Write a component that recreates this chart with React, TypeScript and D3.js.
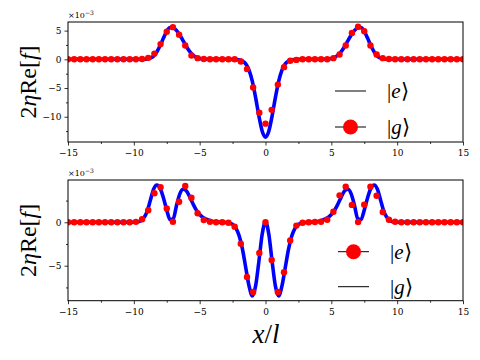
import React, { useEffect, useRef } from "react";
import * as d3 from "d3";

const width = 480;
const height = 360;
const plotLeft = 68;
const plotRight = 463;
const serif = "Liberation Serif, Times New Roman, serif";
const tickFont = "DejaVu Serif, serif";

const xTicks = [-15, -10, -5, 0, 5, 10, 15];
const xMinorTicks = [-12.5, -7.5, -2.5, 2.5, 7.5, 12.5];
const topYTicks = [-10, -5, 0, 5];
const topYMinor = [-12.5, -7.5, -2.5, 2.5];
const bottomYTicks = [-5, 0];
const bottomYMinor = [-7.5, -2.5, 2.5];

// sample positions of the red dots
const dotX = [
  -15, -14.531, -14.063, -13.594, -13.125, -12.656, -12.188, -11.719, -11.25, -10.781,
  -10.313, -9.844, -9.375, -8.906, -8.438, -7.969, -7.5, -7.031, -6.563, -6.094,
  -5.625, -5.156, -4.688, -4.219, -3.75, -3.281, -2.813, -2.344, -1.875, -1.406,
  -0.938, -0.469, 0, 0.469, 0.938, 1.406, 1.875, 2.344, 2.813, 3.281,
  3.75, 4.219, 4.688, 5.156, 5.625, 6.094, 6.563, 7.031, 7.5, 7.969,
  8.438, 8.906, 9.375, 9.844, 10.313, 10.781, 11.25, 11.719, 12.188, 12.656,
  13.125, 13.594, 14.063, 14.531, 15,
];

// values in units of 1e-3
const topDots = [
  0, 0, 0, 0, 0, 0, 0, 0, 0, 0,
  0, 0, 0.05, 0.26, 1.0, 2.65, 4.8, 5.6, 4.3, 2.4,
  0.66, 0.2, 0.05, 0, 0, 0, 0, 0, -0.38, -1.7,
  -4.9, -9.3, -11.2, -8.8, -4.4, -1.36, -0.26, -0.1, 0, 0,
  0, 0, 0, 0.2, 0.84, 2.4, 4.6, 5.66, 4.9, 2.4,
  0.84, 0.2, 0.05, 0, 0, 0, 0, 0, 0, 0,
  0, 0, 0, 0, 0,
];

const bottomDots = [
  0, 0, 0, 0, 0, 0, 0, 0, 0, 0,
  0, 0.05, 0.35, 1.38, 3.34, 4.03, 1.6, 0.07, 2.37, 4.18,
  2.83, 1.04, 0.26, 0.07, 0, 0, -0.05, -0.5, -2.46, -6.3,
  -8.03, -3.54, 0, -4.34, -8.03, -5.76, -2.1, -0.38, -0.05, 0,
  0.03, 0.07, 0.3, 1.22, 3.1, 4.1, 2.0, 0.03, 2.03, 4.1,
  3.06, 1.19, 0.3, 0.07, 0, 0, 0, 0, 0, 0,
  0, 0, 0, 0, 0,
];

const topLineX = [
  -15, -10, -9.5, -9.25, -9, -8.75, -8.5, -8.25, -8, -7.75, -7.5, -7.25, -7, -6.75, -6.5,
  -6.25, -6, -5.75, -5.5, -5.25, -5, -4.75, -4.5, -4, -3, -2.5, -2, -1.75, -1.5, -1.25,
  -1, -0.75, -0.5, -0.25, 0, 0.25, 0.5, 0.75, 1, 1.25, 1.5, 1.75, 2, 2.5, 3,
  4, 4.5, 4.75, 5, 5.25, 5.5, 5.75, 6, 6.25, 6.5, 6.75, 7, 7.25, 7.5, 7.75,
  8, 8.25, 8.5, 8.75, 9, 9.25, 9.5, 10, 15,
];
const topLineY = [
  0, 0, 0, 0.01, 0.06, 0.2, 0.55, 1.3, 2.4, 3.7, 4.9, 5.55, 5.5, 5.0, 4.2,
  3.2, 2.2, 1.35, 0.75, 0.35, 0.15, 0.06, 0.02, 0, 0, -0.01, -0.09, -0.29, -0.8, -1.89,
  -3.85, -6.67, -9.89, -12.52, -13.55, -12.52, -9.89, -6.67, -3.85, -1.89, -0.8, -0.29, -0.09, -0.01, 0,
  0, 0.02, 0.06, 0.15, 0.35, 0.75, 1.35, 2.2, 3.2, 4.2, 5.0, 5.5, 5.55, 4.9, 3.7,
  2.4, 1.3, 0.55, 0.2, 0.06, 0.01, 0, 0, 0,
];

const bottomLineX = [
  -15, -10, -9.75, -9.5, -9.25, -9, -8.75, -8.5, -8.25, -8, -7.75, -7.5, -7.25, -7, -6.75,
  -6.5, -6.25, -6, -5.75, -5.5, -5.25, -5, -4.75, -4.5, -4, -3.5, -3, -2.75, -2.5, -2.25,
  -2, -1.75, -1.5, -1.25, -1, -0.75, -0.5, -0.25, 0, 0.25, 0.5, 0.75, 1, 1.25, 1.5,
  1.75, 2, 2.25, 2.5, 2.75, 3, 3.5, 4, 4.5, 4.75, 5, 5.25, 5.5, 5.75, 6,
  6.25, 6.5, 6.75, 7, 7.25, 7.5, 7.75, 8, 8.25, 8.5, 8.75, 9, 9.25, 9.5, 9.75,
  10, 15,
];
const bottomLineY = [
  0, 0, 0.03, 0.15, 0.5, 1.2, 2.5, 3.8, 4.3, 3.9, 2.8, 1.4, 0.3, 0.45, 2.0,
  3.3, 3.8, 3.6, 2.9, 2.1, 1.4, 0.9, 0.55, 0.35, 0.1, 0.02, -0.02, -0.07, -0.24, -0.67,
  -1.56, -3.1, -5.23, -7.33, -8.49, -7.32, -4.47, -1.35, 0.05, -1.35, -4.47, -7.32, -8.49, -7.33, -5.23,
  -3.1, -1.56, -0.67, -0.24, -0.07, -0.02, 0.02, 0.1, 0.35, 0.55, 0.9, 1.4, 2.1, 2.9, 3.6,
  3.8, 3.3, 2.0, 0.45, 0.3, 1.4, 2.8, 3.9, 4.3, 3.8, 2.5, 1.2, 0.5, 0.15, 0.03,
  0, 0,
];

type LegendItem = { label: string; marker: boolean };

const topLegend: LegendItem[] = [
  { label: "e", marker: false },
  { label: "g", marker: true },
];
const bottomLegend: LegendItem[] = [
  { label: "e", marker: true },
  { label: "g", marker: false },
];

type PanelProps = {
  id: string;
  top: number;
  bottom: number;
  domain: [number, number];
  yTicks: number[];
  yMinor: number[];
  dots: number[];
  lineX: number[];
  lineY: number[];
  legend: LegendItem[];
  legendY: number[];
  legendX: number;
};

function Panel(p: PanelProps) {
  const xAxisRef = useRef<SVGGElement>(null);
  const xMinorRef = useRef<SVGGElement>(null);
  const yAxisRef = useRef<SVGGElement>(null);
  const yMinorRef = useRef<SVGGElement>(null);

  const x = d3.scaleLinear().domain([-15, 15]).range([plotLeft, plotRight]);
  const y = d3.scaleLinear().domain(p.domain).range([p.bottom, p.top]);

  const line = d3
    .line<number>()
    .x((d, i) => x(p.lineX[i]))
    .y((d) => y(d))
    .curve(d3.curveMonotoneX);

  useEffect(() => {
    const style = (g: d3.Selection<SVGGElement, unknown, null, undefined>) => {
      g.select(".domain").remove();
      g.selectAll("line").attr("stroke", "#000").attr("stroke-width", 0.8);
      g.selectAll("text")
        .attr("font-family", tickFont)
        .attr("font-size", 9)
        .attr("fill", "#000");
    };
    d3.select(xAxisRef.current!)
      .call(d3.axisBottom(x).tickValues(xTicks).tickSize(3.5).tickPadding(4).tickFormat(d3.format("d")))
      .call(style);
    d3.select(xMinorRef.current!)
      .call(d3.axisBottom(x).tickValues(xMinorTicks).tickSize(2).tickFormat(() => ""))
      .call(style);
    d3.select(yAxisRef.current!)
      .call(d3.axisLeft(y).tickValues(p.yTicks).tickSize(3.5).tickPadding(3).tickFormat(d3.format("d")))
      .call(style);
    d3.select(yMinorRef.current!)
      .call(d3.axisLeft(y).tickValues(p.yMinor).tickSize(2).tickFormat(() => ""))
      .call(style);
  });

  const midY = (p.top + p.bottom) / 2;

  return (
    <g>
      <defs>
        <clipPath id={p.id}>
          <rect x={plotLeft} y={p.top} width={plotRight - plotLeft} height={p.bottom - p.top} />
        </clipPath>
      </defs>
      <g clipPath={`url(#${p.id})`}>
        <path d={line(p.lineY) || ""} fill="none" stroke="#0000ff" strokeWidth={3.6} />
        {p.dots.map((v, i) => (
          <circle key={i} cx={x(dotX[i])} cy={y(v)} r={3.2} fill="#ff0000" />
        ))}
      </g>
      <rect
        x={plotLeft}
        y={p.top}
        width={plotRight - plotLeft}
        height={p.bottom - p.top}
        fill="none"
        stroke="#000"
        strokeWidth={1}
      />
      <g ref={xAxisRef} transform={`translate(0,${p.bottom})`} />
      <g ref={xMinorRef} transform={`translate(0,${p.bottom})`} />
      <g ref={yAxisRef} transform={`translate(${plotLeft},0)`} />
      <g ref={yMinorRef} transform={`translate(${plotLeft},0)`} />
      <text x={plotLeft} y={p.top - 4} fontFamily={tickFont} fontSize={8}>
        ×10<tspan dy={-3.5} fontSize={6}>−3</tspan>
      </text>
      <text
        transform={`translate(36,${midY}) rotate(-90)`}
        textAnchor="middle"
        fontFamily={serif}
        fontSize={24}
      >
        2<tspan fontStyle="italic">η</tspan>Re[<tspan fontStyle="italic">f</tspan>]
      </text>
      {p.legend.map((item, i) => (
        <g key={i} transform={`translate(${p.legendX},${p.legendY[i]})`}>
          <line x1={0} x2={31} y1={0} y2={0} stroke="#000" strokeWidth={1} />
          {item.marker && <circle cx={15.5} cy={0} r={7.5} fill="#ff0000" />}
          <text x={52} y={7} fontFamily={serif} fontSize={21}>
            |<tspan fontStyle="italic">{item.label}</tspan>⟩
          </text>
        </g>
      ))}
    </g>
  );
}

export default function App() {
  return (
    <div style={{ position: "absolute", left: 0, top: 0 }}>
      <svg width={width} height={height} style={{ display: "block", background: "#fff" }}>
        <Panel
          id="clipTop"
          top={22}
          bottom={142}
          domain={[-14.4, 6.5]}
          yTicks={topYTicks}
          yMinor={topYMinor}
          dots={topDots}
          lineX={topLineX}
          lineY={topLineY}
          legend={topLegend}
          legendY={[91, 127]}
          legendX={335}
        />
        <Panel
          id="clipBottom"
          top={180}
          bottom={300.7}
          domain={[-9.03, 4.87]}
          yTicks={bottomYTicks}
          yMinor={bottomYMinor}
          dots={bottomDots}
          lineX={bottomLineX}
          lineY={bottomLineY}
          legend={bottomLegend}
          legendY={[251.7, 286.7]}
          legendX={338}
        />
        <text x={266} y={343} textAnchor="middle" fontFamily={serif} fontSize={27}>
          <tspan fontStyle="italic">x</tspan>/<tspan fontStyle="italic">l</tspan>
        </text>
      </svg>
    </div>
  );
}
